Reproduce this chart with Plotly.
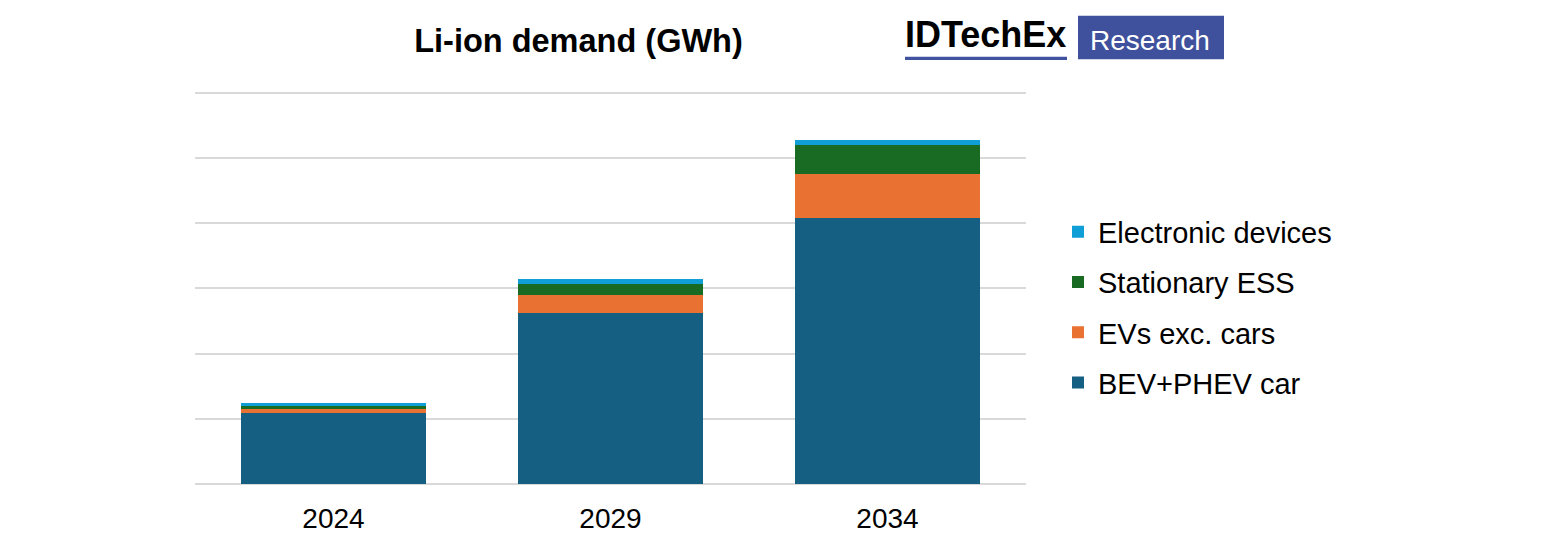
import plotly.graph_objects as go

years = ["2024", "2029", "2034"]
bev_phev_car = [1085, 2625, 4075]
evs_exc_cars = [70, 270, 680]
stationary_ess = [40, 180, 450]
electronic_devices = [50, 65, 70]

series = [
    ("BEV+PHEV car", bev_phev_car, "#156082", 4),
    ("EVs exc. cars", evs_exc_cars, "#E97132", 3),
    ("Stationary ESS", stationary_ess, "#196B24", 2),
    ("Electronic devices", electronic_devices, "#0F9ED5", 1),
]

Y_MAX = 6000
Y_TOP = 6030  # small headroom so the top gridline is drawn

# page body adds an 8px offset; target pixel positions are shifted accordingly
OX, OY = 8, 8
W, H = 1559, 539
top_px = 484 - (484 - 93) * Y_TOP / Y_MAX
L, R, T, B = 195 - OX, 1559 - (1026 - OX), top_px - OY, 539 - (484 - OY)
pw, ph = W - L - R, H - T - B

def px(x):
    return (x - OX - L) / pw

def py(y):
    return (H - B - (y - OY)) / ph

fig = go.Figure()
for name, vals, color, rank in series:
    fig.add_trace(go.Bar(
        x=years, y=vals, name=name, legendgroup=name, legendrank=rank,
        marker=dict(color=color, line=dict(width=0)),
    ))

FONT = "Liberation Sans, Arial, sans-serif"

fig.update_layout(
    width=W, height=H,
    margin=dict(l=L, r=R, t=T, b=B, pad=0, autoexpand=False),
    barmode="stack",
    bargap=0.335,
    plot_bgcolor="white",
    paper_bgcolor="white",
    font=dict(family=FONT, color="#000000"),
    title=dict(
        text="<b>Li-ion demand (GWh)</b>",
        font=dict(family=FONT, size=32.5, color="#000000"),
        xref="container", yref="container",
        x=(578.5 - OX) / W, y=1 - (41 - OY) / H, xanchor="center", yanchor="middle",
    ),
    legend=dict(
        traceorder="grouped",
        tracegroupgap=9.5,
        font=dict(family=FONT, size=29, color="#000000"),
        x=px(1058), xanchor="left",
        y=py(307.5), yanchor="middle",
        bgcolor="rgba(0,0,0,0)",
        itemclick=False,
    ),
    xaxis=dict(
        showgrid=False, showline=False, ticks="",
        tickfont=dict(family=FONT, size=28, color="#000000"),
        ticklabelstandoff=15,
    ),
    yaxis=dict(
        range=[0, Y_TOP], dtick=1000, tick0=0,
        showgrid=True, gridcolor="#d9d9d9", gridwidth=1.5,
        zeroline=True, zerolinecolor="#d9d9d9", zerolinewidth=1.5,
        showticklabels=False, ticks="", showline=False,
    ),
    showlegend=True,
)

# IDTechEx logo
fig.add_shape(type="rect", xref="paper", yref="paper",
              x0=px(1078), x1=px(1224), y0=py(59.3), y1=py(15.7),
              fillcolor="#3F519C", line=dict(width=0))
fig.add_shape(type="rect", xref="paper", yref="paper",
              x0=px(905), x1=px(1067), y0=py(60), y1=py(56.7),
              fillcolor="#4153A0", line=dict(width=0))
fig.add_annotation(text="<b>IDTechEx</b>", xref="paper", yref="paper",
                   x=px(985), y=py(34.5), xanchor="center", yanchor="middle",
                   showarrow=False,
                   font=dict(family=FONT, size=36, color="#000000"))
fig.add_annotation(text="Research", xref="paper", yref="paper",
                   x=px(1150), y=py(40.5), xanchor="center", yanchor="middle",
                   showarrow=False,
                   font=dict(family=FONT, size=28, color="#FFFFFF"))

fig.write_html("out.html")
